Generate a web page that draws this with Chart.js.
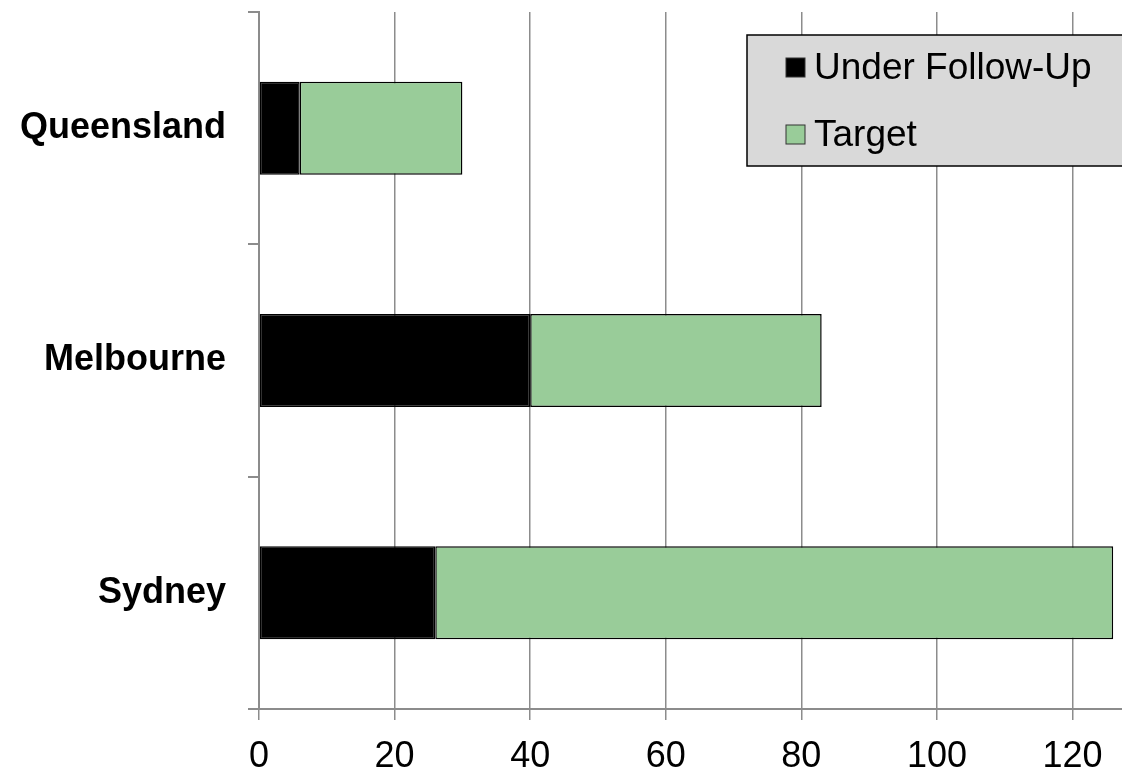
<!DOCTYPE html>
<html>
<head>
<meta charset="utf-8">
<script src="https://cdn.jsdelivr.net/npm/chart.js@4.4.1/dist/chart.umd.min.js"></script>
<style>
  html, body { margin: 0; padding: 0; background: #fff; }
  #wrap { width: 1122px; height: 769px; }
</style>
</head>
<body>
<div id="wrap"><canvas id="myChart" width="1122" height="769"></canvas></div>
<script>
var sites = ["Queensland", "Melbourne", "Sydney"];
var underFollowUp = [6, 40, 26];
var target = [24, 43, 100];
var xTicks = [0, 20, 40, 60, 80, 100, 120];
var xMax = 127.3;

var FONT = "'Liberation Sans', Arial, sans-serif";
var GRID = "#8c8c8c";

// legend box drawn by hand (grey box, square markers)
var boxLegend = {
  id: "boxLegend",
  afterDraw: function (chart) {
    var c = chart.ctx;
    var x = 747, y = 35, w = 390, h = 131;
    c.save();
    c.fillStyle = "#d9d9d9";
    c.fillRect(x, y, w, h);
    c.lineWidth = 1.5;
    c.strokeStyle = "#000";
    c.strokeRect(x, y, w, h);
    c.font = "37px " + FONT;
    c.textBaseline = "middle";
    chart.data.datasets.forEach(function (ds, i) {
      var cy = 68 + i * 67;
      c.fillStyle = ds.backgroundColor;
      c.fillRect(786, cy - 10, 19, 19);
      c.lineWidth = 1;
      c.strokeStyle = "#333";
      c.strokeRect(786, cy - 10, 19, 19);
      c.fillStyle = "#000";
      c.fillText(ds.label, 814, cy + 1);
    });
    c.restore();
  }
};

var ctx = document.getElementById("myChart");
var myChart = new Chart(ctx, {
  type: "bar",
  data: {
    labels: sites,
    datasets: [
      {
        label: "Under Follow-Up",
        data: underFollowUp,
        backgroundColor: "#000000",
        borderColor: "#000000",
        borderWidth: 1.5,
        borderSkipped: false
      },
      {
        label: "Target",
        data: target,
        backgroundColor: "#99cc99",
        borderColor: "#000000",
        borderWidth: 1.5,
        borderSkipped: false
      }
    ]
  },
  options: {
    indexAxis: "y",
    responsive: false,
    animation: false,
    layout: { padding: { top: 12, right: 0, left: 0, bottom: 0 } },
    datasets: { bar: { barPercentage: 0.4, categoryPercentage: 1 } },
    plugins: {
      legend: { display: false },
      tooltip: { enabled: false }
    },
    scales: {
      x: {
        stacked: true,
        min: 0,
        max: xMax,
        afterBuildTicks: function (scale) {
          scale.ticks = xTicks.map(function (v) { return { value: v }; });
        },
        grid: { color: GRID, lineWidth: 1.5, tickLength: 11 },
        border: { color: GRID, width: 2 },
        ticks: {
          color: "#000",
          font: { family: FONT, size: 36 },
          padding: 15,
          maxRotation: 0
        },
        afterFit: function (scale) {
          scale.height = 60;
          scale.paddingLeft = 0;
          scale.paddingRight = 0;
        }
      },
      y: {
        stacked: true,
        grid: { drawOnChartArea: false, color: GRID, lineWidth: 2, tickLength: 11, offset: true },
        border: { color: GRID, width: 2 },
        ticks: {
          color: "#000",
          font: { family: FONT, size: 36, weight: "bold" },
          padding: 22
        },
        afterFit: function (scale) {
          scale.width = 259;
          scale.paddingTop = 0;
          scale.paddingBottom = 0;
        }
      }
    }
  },
  plugins: [boxLegend]
});
</script>
</body>
</html>
